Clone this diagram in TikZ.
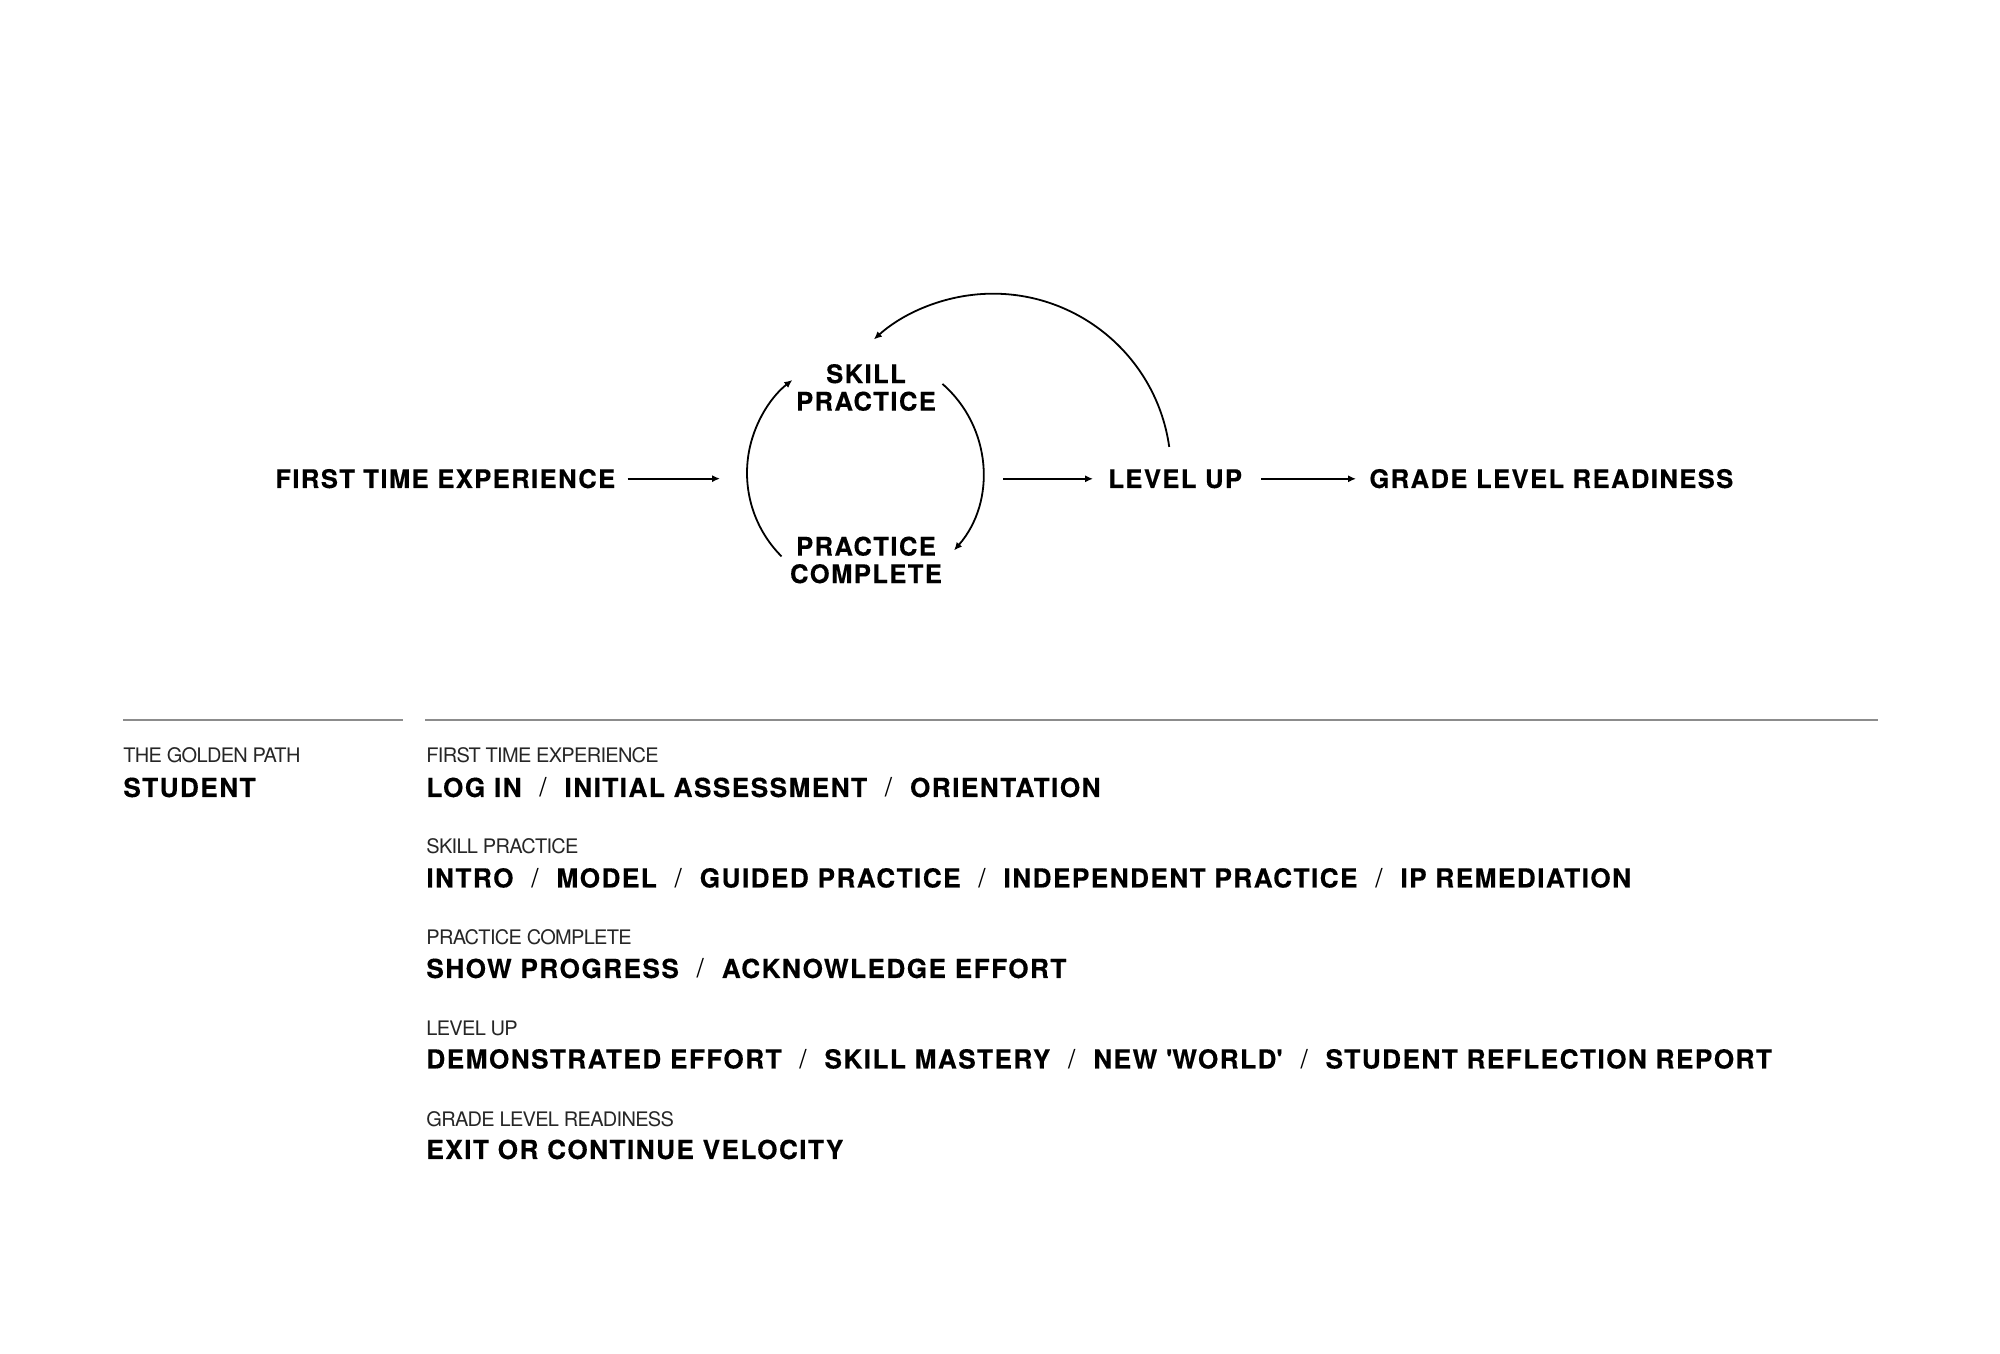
\documentclass[tikz,border=0pt]{standalone}
\usepackage{fontspec}
\usetikzlibrary{arrows.meta}
\newfontfamily\headfont[LetterSpace=5.5, BoldFeatures={FakeBold=0.35}]{TeX Gyre Heros}
\newfontfamily\tagfont[LetterSpace=-3.5]{TeX Gyre Heros}
\newcommand{\sepslash}{\hspace{0.68em}{\mdseries/}\hspace{0.68em}}
\tikzset{
  stage/.style={font=\headfont\bfseries\fontsize{12.8}{13.75}\selectfont, inner sep=0pt, align=center},
  tag/.style={font=\tagfont\fontsize{10}{12}\selectfont, inner sep=0pt, anchor=base west, text=black!85},
  item/.style={font=\headfont\bfseries\fontsize{13.1}{15}\selectfont, inner sep=0pt, anchor=base west},
  flow/.style={line width=0.9pt, -{Latex[length=4pt,width=3.6pt]}},
  rule/.style={line width=1pt, black!45}
}
\begin{document}
\begin{tikzpicture}[x=0.5pt,y=0.5pt]
    \useasboundingbox[fill=white] (0,0) rectangle (2000,1353);
    % golden path
    \node[stage, anchor=base west] (fte) at (275,865) {FIRST TIME EXPERIENCE};
    \node[circle, minimum size=118pt, inner sep=0pt, outer sep=0pt] (loop) at (865,880) {};
    \node[stage] (skill) at (866,965.5) {SKILL\\PRACTICE};
    \node[stage] (done) at (866,793) {PRACTICE\\COMPLETE};
    \node[stage, anchor=base west] (lvl) at (1108,865) {LEVEL UP};
    \node[stage, anchor=base west] (grade) at (1369,865) {GRADE LEVEL READINESS};
    \draw[flow, shorten <=6pt, shorten >=13.5pt] (fte.east) -- (fte.east -| loop.west);
    \draw[flow] (loop.225) arc[start angle=225, end angle=128, radius=59pt];
    \draw[flow] (loop.49) arc[start angle=49, end angle=-41, radius=59pt];
    \draw[flow, shorten <=10pt, shorten >=7.5pt] (loop.east |- lvl.west) -- (lvl.west);
    \draw[flow, shorten <=9.5pt, shorten >=6.5pt] (lvl.east) -- (lvl.east -| grade.west);
    \draw[flow] ([xshift=-3pt,yshift=11pt]lvl.north) arc[start angle=8, end angle=132, radius=89pt];
    % legend
    \draw[rule] (123,633) -- (403,633);
    \draw[rule] (425,633) -- (1878,633);
    \node[tag] (path) at (123,590) {THE GOLDEN PATH};
    \node[item] (student) at (123,556) {STUDENT};
    \node[tag] (ftetag) at (426,590) {FIRST TIME EXPERIENCE};
    \node[item] (fteitem) at (426,556) {LOG IN\sepslash INITIAL ASSESSMENT\sepslash ORIENTATION};
    \node[tag] (skilltag) at (426,499) {SKILL PRACTICE};
    \node[item] (skillitem) at (426,465.5) {INTRO\sepslash MODEL\sepslash GUIDED PRACTICE\sepslash INDEPENDENT PRACTICE\sepslash IP REMEDIATION};
    \node[tag] (donetag) at (426,408) {PRACTICE COMPLETE};
    \node[item] (doneitem) at (426,375) {SHOW PROGRESS\sepslash ACKNOWLEDGE EFFORT};
    \node[tag] (lvltag) at (426,317) {LEVEL UP};
    \node[item] (lvlitem) at (426,284.5) {DEMONSTRATED EFFORT\sepslash SKILL MASTERY\sepslash NEW \textquotesingle WORLD\textquotesingle\sepslash STUDENT REFLECTION REPORT};
    \node[tag] (gradetag) at (426,226) {GRADE LEVEL READINESS};
    \node[item] (gradeitem) at (426,194) {EXIT OR CONTINUE VELOCITY};
\end{tikzpicture}
\end{document}
